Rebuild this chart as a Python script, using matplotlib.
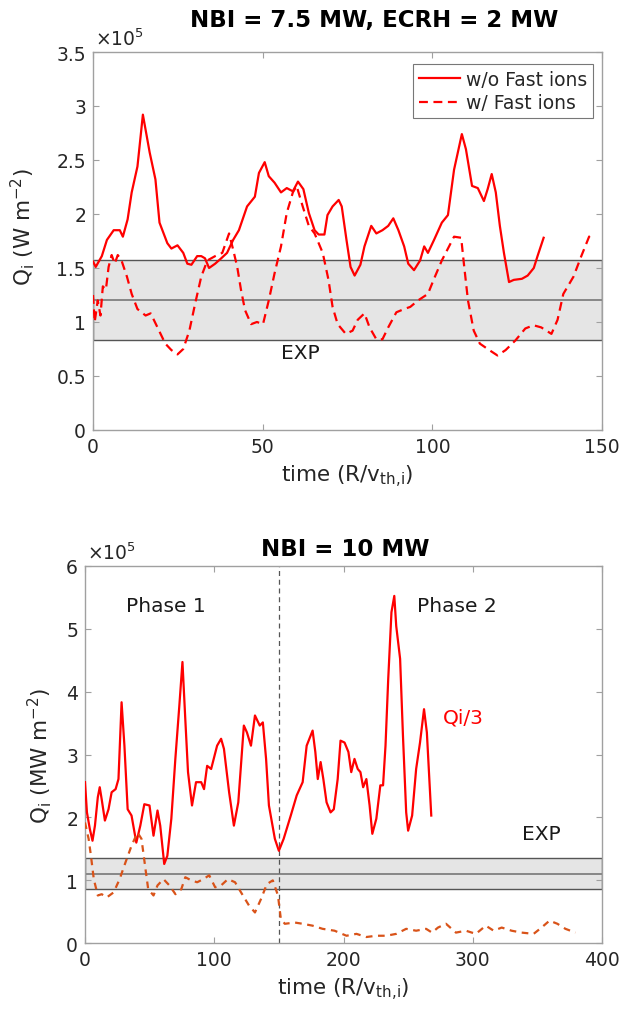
import matplotlib
matplotlib.use("Agg")
import matplotlib.pyplot as plt
from matplotlib.patches import Rectangle

# ---- top panel: NBI = 7.5 MW, ECRH = 2 MW  (values in units of 1e5)
t_nofast = [0, 0.8, 2.6, 4.1, 6.1, 7.9, 8.8, 10.2, 11.4, 13.1, 14.7, 16.7, 18.4, 19.6,
            21.9, 23.1, 24.9, 26.6, 27.8, 29, 30.7, 31.9, 33, 34.2, 36, 37.8, 39.5, 41.3,
            43, 45.4, 47.7, 48.9, 50.6, 51.8, 53.5, 55.4, 57.1, 58.9, 60.4, 62, 63.6,
            65.3, 66.5, 68.2, 69.1, 70.6, 72.4, 73.3, 74.7, 75.9, 77.1, 78.8, 80, 82,
            83.5, 85.3, 87, 88.5, 90, 91.7, 92.9, 94.6, 96.4, 97.6, 98.7, 100.5, 102.8,
            104.6, 106.4, 108.7, 109.9, 111.7, 113.4, 115.2, 116.3, 117.5, 118.7, 119.9,
            121.1, 122.6, 124, 126.4, 128.1, 129.9, 131, 132.8]
q_nofast = [1.56, 1.51, 1.61, 1.76, 1.85, 1.85, 1.79, 1.95, 2.2, 2.44, 2.92, 2.57, 2.32, 1.92,
            1.73, 1.68, 1.71, 1.64, 1.54, 1.53, 1.61, 1.61, 1.59, 1.50, 1.54, 1.59, 1.64, 1.76,
            1.85, 2.07, 2.16, 2.38, 2.48, 2.35, 2.29, 2.2, 2.24, 2.21, 2.3, 2.23, 2.01,
            1.85, 1.81, 1.81, 1.99, 2.07, 2.13, 2.07, 1.76, 1.51, 1.43, 1.53, 1.70, 1.89,
            1.82, 1.85, 1.89, 1.96, 1.85, 1.70, 1.54, 1.48, 1.57, 1.70, 1.64, 1.76, 1.92,
            1.99, 2.41, 2.74, 2.60, 2.26, 2.24, 2.12, 2.23, 2.37, 2.20, 1.89,
            1.64, 1.37, 1.39, 1.40, 1.43, 1.50, 1.61, 1.78]

t_fast = [0, 0.5, 1.4, 2.2, 2.9, 3.8, 4.6, 5.5, 6.4, 7.3, 8.4, 10, 11.4, 13.1, 15.5, 17, 19,
          21.3, 23.1, 24.9, 26.6, 28.4, 30.1, 31.9, 33.7, 36, 38.1, 40.1, 41.3, 42.5, 43.6,
          44.8, 46.6, 48.3, 50.1, 51.8, 53.5, 55.4, 57.1, 58.9, 60, 61.8, 63.6, 65.3, 67.7,
          69.4, 70.6, 72.1, 74.5, 76.5, 78, 80, 81.5, 83.5, 85.3, 87, 89.4, 91.7, 93.5,
          95.8, 98.7, 100.5, 102.8, 104.6, 106.4, 108.5, 109.3, 110.5, 112.2, 114, 116.3,
          119.2, 121.6, 124.5, 127.4, 129.8, 132.1, 135.1, 136.9, 138.6, 141.6, 143.9,
          146.2, 147.4]
q_fast = [1.25, 1.0, 1.2, 1.06, 1.33, 1.30, 1.51, 1.62, 1.54, 1.62, 1.57, 1.42, 1.26, 1.12,
          1.06, 1.08, 0.95, 0.80, 0.74, 0.70, 0.75, 0.92, 1.17, 1.42, 1.57, 1.61, 1.64, 1.82,
          1.67, 1.51, 1.30, 1.11, 0.98, 1.00, 0.98, 1.20, 1.45, 1.70, 2.01, 2.20, 2.26, 2.07,
          1.89, 1.82, 1.64, 1.39, 1.14, 0.98, 0.89, 0.92, 1.02, 1.08, 0.95, 0.84, 0.84, 0.95,
          1.09, 1.12, 1.14, 1.20, 1.26, 1.40, 1.57, 1.68, 1.79, 1.78, 1.54, 1.20, 0.92, 0.80,
          0.75, 0.69, 0.74, 0.83, 0.94, 0.97, 0.95, 0.89, 1.02, 1.26, 1.42, 1.61, 1.79, 1.82]

exp_top = (0.83, 1.20, 1.57)   # low, mean, high

# ---- bottom panel: NBI = 10 MW
t_qi3 = [0, 1.5, 3.7, 5.8, 7.7, 9.9, 11.4, 12.9, 15.4, 18.2, 20.6, 23.7, 25.9, 28.3, 30.5,
         33, 36, 39.7, 42.8, 45.9, 49.9, 53, 56.1, 58.2, 61.3, 63.7, 66.8, 69.9, 73, 75.4,
         77.6, 79.7, 82.8, 85.9, 89.9, 92.1, 94.5, 97.6, 102.2, 105.3, 107.5, 111.5, 115.2,
         118.6, 122.9, 125.3, 128.4, 131.5, 135.2, 137.6, 140.1, 142.3, 146.9, 150, 153.7,
         159.2, 163.8, 168.4, 171.5, 176.1, 178.2, 180.1, 182.3, 184.4, 186.9, 190, 192.5,
         195.5, 197.7, 200.8, 203.8, 206, 208.5, 211, 213.1, 215.2, 217.7, 220.2, 222.3,
         225.4, 228.5, 230.6, 232.5, 234.6, 237.1, 239.3, 240.8, 243.8, 246, 248.5, 250,
         253.1, 256.2, 259.2, 262.3, 264.5, 267.9]
q_qi3 = [2.56, 2.08, 1.82, 1.63, 1.87, 2.32, 2.48, 2.29, 1.95, 2.13, 2.40, 2.45, 2.61, 3.83, 3.14,
         2.13, 2.03, 1.60, 1.87, 2.21, 2.19, 1.71, 2.11, 1.87, 1.26, 1.39, 1.98, 2.93, 3.78, 4.47,
         3.56, 2.72, 2.19, 2.56, 2.56, 2.45, 2.82, 2.77, 3.14, 3.25, 3.09, 2.40, 1.87,
         2.24, 3.46, 3.35, 3.14, 3.62, 3.46, 3.51, 2.93, 2.19, 1.66, 1.47, 1.66,
         2.03, 2.35, 2.56, 3.14, 3.38, 3.04, 2.61, 2.88, 2.61, 2.24, 2.08, 2.13,
         2.61, 3.22, 3.19, 3.04, 2.72, 2.93, 2.77, 2.72, 2.48, 2.61, 2.19, 1.74,
         1.98, 2.51, 2.51, 3.14, 4.20, 5.26, 5.52, 5.04, 4.52, 3.30, 2.08, 1.79,
         2.03, 2.77, 3.19, 3.72, 3.35, 2.03]

t_fi = [0, 2.8, 4.6, 6.8, 9.9, 12.9, 16.9, 22.2, 26.8, 31.4, 36, 40.6, 43.7, 46.8, 48.9, 53,
        56.1, 60.7, 65.3, 70, 74.5, 77.6, 82.2, 86.8, 91.5, 96.1, 100.7, 105.3, 110.6, 116.1,
        120.7, 126.9, 131.5, 136.1, 140.7, 145.3, 149.3, 151.5, 154.6, 162.3, 168.4, 176.1,
        183.8, 193.1, 202.3, 210, 217.7, 225.4, 233.1, 240.8, 248.5, 256.2, 263.9, 268.5,
        273.1, 279.3, 287, 294.7, 302.4, 310.1, 316.2, 322.4, 330.1, 337.8, 347.1, 353.2,
        359.4, 365.5, 371.7, 379.4]
q_fi = [1.92, 1.66, 1.39, 1.02, 0.76, 0.78, 0.73, 0.81, 1.02, 1.29, 1.55, 1.76, 1.66, 1.18, 0.86,
        0.76, 0.92, 1.02, 0.92, 0.78, 0.86, 1.05, 1.00, 0.97, 1.02, 1.08, 0.89, 0.92, 1.02, 0.97,
        0.81, 0.60, 0.49, 0.70, 0.94, 1.00, 0.76, 0.39, 0.31, 0.33, 0.31, 0.28,
        0.23, 0.20, 0.12, 0.15, 0.10, 0.12, 0.12, 0.15, 0.23, 0.20, 0.23, 0.17,
        0.25, 0.31, 0.17, 0.20, 0.15, 0.28, 0.20, 0.25, 0.20, 0.17, 0.15, 0.25,
        0.36, 0.31, 0.23, 0.17]

exp_bot = (0.86, 1.10, 1.35)
phase_split = 150

TICKC = "#262626"
SPINEC = "#a0a0a0"
RED = "#ff0000"
ORANGE = "#d95319"

plt.rcParams["font.family"] = "DejaVu Sans"

fig = plt.figure(figsize=(6.24, 10.12), dpi=100)
ax1 = fig.add_axes([93/624, 1-431/1012, 509/624, 378/1012])
ax2 = fig.add_axes([85/624, 1-944.3/1012, 517/624, 377.6/1012])


def exp_band(ax, band, xmax):
    lo, mid, hi = band
    ax.add_patch(Rectangle((0, lo), xmax, hi-lo, facecolor="#e5e5e5",
                           edgecolor="#555555", lw=1.0, zorder=1))
    ax.plot([0, xmax], [mid, mid], color="#777777", lw=1.2, zorder=1.5)


def style(ax, xlim, ylim, xticks, yticks, ylab, ypad):
    ax.set_xlim(xlim)
    ax.set_ylim(ylim)
    ax.set_xticks(xticks)
    ax.set_yticks(yticks)
    ax.set_yticklabels([("%g" % v) for v in yticks])
    ax.tick_params(direction="in", top=True, right=True, length=4.5, width=0.8,
                   color=SPINEC, labelcolor=TICKC, labelsize=13.5, pad=5)
    for s in ax.spines.values():
        s.set_color(SPINEC)
        s.set_linewidth(1.0)
    ax.set_xlabel("time (R/v$_{\\mathrm{th{,}i}}$)", fontsize=15.5, color=TICKC, labelpad=5)
    ax.set_ylabel(ylab, fontsize=15.5, color=TICKC, labelpad=ypad)
    ax.text(0.004, 1.008, "$\\times10^5$", transform=ax.transAxes, fontsize=13.5,
            color=TICKC, ha="left", va="bottom")


# top
exp_band(ax1, exp_top, 150)
ax1.plot(t_nofast, q_nofast, color=RED, lw=1.6, label="w/o Fast ions", zorder=3)
ax1.plot(t_fast, q_fast, color=RED, lw=1.6, ls=(0, (4, 2.5)), label="w/ Fast ions", zorder=3)
style(ax1, (0, 150), (0, 3.5), [0, 50, 100, 150], [0, 0.5, 1, 1.5, 2, 2.5, 3, 3.5],
      "Q$_\\mathrm{i}$ (W m$^{-2}$)", 14)
ax1.yaxis.label.set_y(0.54)
ax1.text(61, 0.72, "EXP", fontsize=14.5, color="#1a1a1a", ha="center", va="center")
leg = ax1.legend(loc="upper right", bbox_to_anchor=(0.982, 0.968), borderaxespad=0,
                 fontsize=13.5, frameon=True, fancybox=False, handlelength=2.2,
                 handletextpad=0.3, labelspacing=0.25, borderpad=0.3)
leg.get_frame().set_edgecolor("#555555")
leg.get_frame().set_linewidth(0.8)
for txt in leg.get_texts():
    txt.set_color(TICKC)
fig.text(374/624, 1-20.5/1012, "NBI = 7.5 MW, ECRH = 2 MW", fontsize=16.5,
         fontweight="bold", ha="center", va="center")

# bottom
exp_band(ax2, exp_bot, 400)
ax2.axvline(phase_split, color="#555555", lw=0.9, ls=(0, (4, 3)), zorder=2)
ax2.plot(t_qi3, q_qi3, color=RED, lw=1.6, zorder=3)
ax2.plot(t_fi, q_fi, color=ORANGE, lw=1.6, ls=(0, (3, 2.5)), zorder=3)
style(ax2, (0, 400), (0, 6), [0, 100, 200, 300, 400], [0, 1, 2, 3, 4, 5, 6],
      "Q$_\\mathrm{i}$ (MW m$^{-2}$)", 9)
ax2.text(62.7, 5.37, "Phase 1", fontsize=14.5, color="#1a1a1a", ha="center", va="center")
ax2.text(288, 5.36, "Phase 2", fontsize=14.5, color="#1a1a1a", ha="center", va="center")
ax2.text(293, 3.59, "Qi/3", fontsize=14.5, color=RED, ha="center", va="center")
ax2.text(353, 1.74, "EXP", fontsize=14.5, color="#1a1a1a", ha="center", va="center")
fig.text(345.6/624, 1-549/1012, "NBI = 10 MW", fontsize=16.5,
         fontweight="bold", ha="center", va="center")

fig.savefig("out.png", dpi=100)
